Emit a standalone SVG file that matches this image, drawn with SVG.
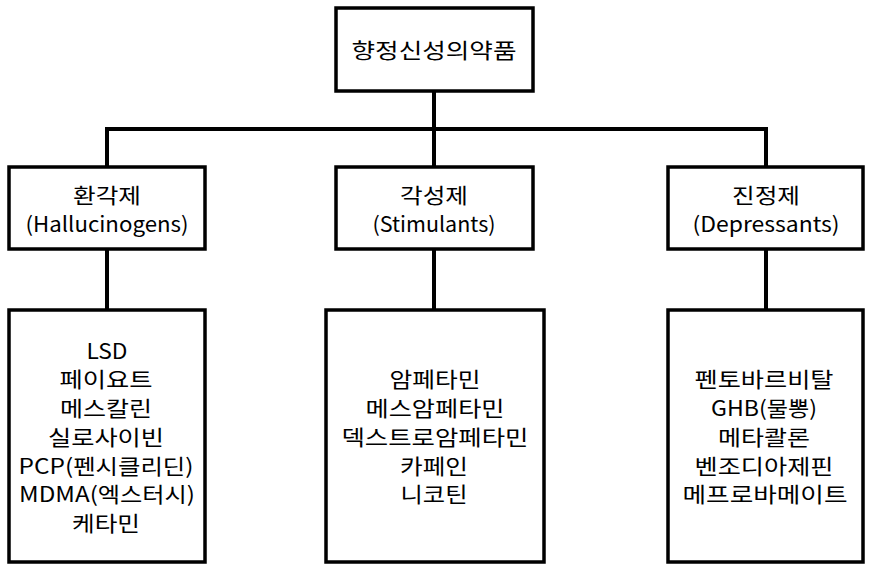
<svg xmlns="http://www.w3.org/2000/svg" width="871" height="570" viewBox="0 0 871 570">
<style>
.box{fill:#fff;stroke:#000;stroke-width:3.5}
.ln{stroke:#000;stroke-width:4;fill:none}
text{font-family:"Noto Sans CJK KR","Noto Sans",sans-serif;font-size:21px;fill:#000;text-anchor:middle;dominant-baseline:central}
</style>
<rect width="871" height="570" fill="#fff"/>
<g id="connectors">
<path class="ln" d="M434 91V129M107 129H766M107 127V167M434 129V167M766 127V167M107 249V310M434 249V310M766 249V310"/>
</g>
<g id="root">
<rect class="box" x="336" y="8" width="197" height="83"/>
<text x="434" y="49" textLength="165" lengthAdjust="spacingAndGlyphs">향정신성의약품</text>
</g>
<g id="hallucinogens">
<rect class="box" x="9" y="167" width="196" height="82"/>
<text x="107" y="194" textLength="68" lengthAdjust="spacingAndGlyphs">환각제</text>
<text x="107" y="223" textLength="163" lengthAdjust="spacingAndGlyphs">(Hallucinogens)</text>
</g>
<g id="stimulants">
<rect class="box" x="336" y="167" width="197" height="82"/>
<text x="434" y="194" textLength="68" lengthAdjust="spacingAndGlyphs">각성제</text>
<text x="434" y="223" textLength="123" lengthAdjust="spacingAndGlyphs">(Stimulants)</text>
</g>
<g id="depressants">
<rect class="box" x="668" y="167" width="195" height="82"/>
<text x="766" y="194" textLength="68" lengthAdjust="spacingAndGlyphs">진정제</text>
<text x="766" y="223" textLength="147" lengthAdjust="spacingAndGlyphs">(Depressants)</text>
</g>
<g id="hallucinogens-list">
<rect class="box" x="9" y="310" width="196" height="252"/>
<text x="107" y="350" textLength="41" lengthAdjust="spacingAndGlyphs">LSD</text>
<text x="106" y="378" textLength="93" lengthAdjust="spacingAndGlyphs">페이요트</text>
<text x="106" y="407" textLength="92" lengthAdjust="spacingAndGlyphs">메스칼린</text>
<text x="106" y="436" textLength="116" lengthAdjust="spacingAndGlyphs">실로사이빈</text>
<text x="106" y="465" textLength="175" lengthAdjust="spacingAndGlyphs">PCP(펜시클리딘)</text>
<text x="107" y="493" textLength="176" lengthAdjust="spacingAndGlyphs">MDMA(엑스터시)</text>
<text x="106" y="522" textLength="68" lengthAdjust="spacingAndGlyphs">케타민</text>
</g>
<g id="stimulants-list">
<rect class="box" x="326" y="310" width="218" height="252"/>
<text x="435" y="378" textLength="91" lengthAdjust="spacingAndGlyphs">암페타민</text>
<text x="435" y="407" textLength="139" lengthAdjust="spacingAndGlyphs">메스암페타민</text>
<text x="435" y="436" textLength="187" lengthAdjust="spacingAndGlyphs">덱스트로암페타민</text>
<text x="434" y="465" textLength="68" lengthAdjust="spacingAndGlyphs">카페인</text>
<text x="434" y="493" textLength="67" lengthAdjust="spacingAndGlyphs">니코틴</text>
</g>
<g id="depressants-list">
<rect class="box" x="668" y="310" width="195" height="252"/>
<text x="764" y="378" textLength="139" lengthAdjust="spacingAndGlyphs">펜토바르비탈</text>
<text x="764" y="407" textLength="106" lengthAdjust="spacingAndGlyphs">GHB(물뽕)</text>
<text x="764" y="436" textLength="92" lengthAdjust="spacingAndGlyphs">메타콸론</text>
<text x="764" y="465" textLength="139" lengthAdjust="spacingAndGlyphs">벤조디아제핀</text>
<text x="765" y="493" textLength="165" lengthAdjust="spacingAndGlyphs">메프로바메이트</text>
</g>
</svg>
